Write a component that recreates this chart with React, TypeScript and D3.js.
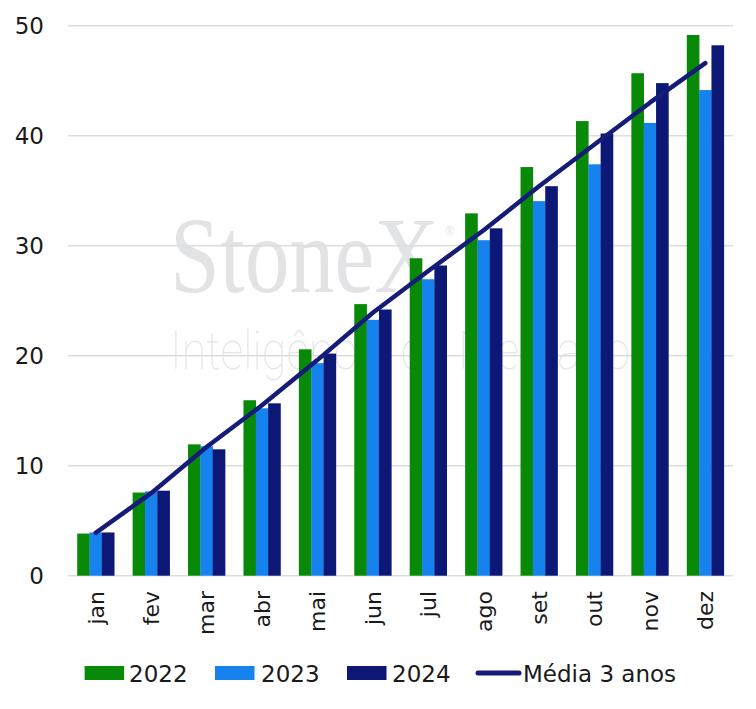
import React from "react";
import * as d3 from "d3";

const months = ["jan", "fev", "mar", "abr", "mai", "jun", "jul", "ago", "set", "out", "nov", "dez"];
const series = ["2022", "2023", "2024"];
const v2022 = [3.83, 7.56, 11.94, 15.95, 20.58, 24.69, 28.86, 32.94, 37.15, 41.33, 45.68, 49.16];
const v2023 = [3.93, 7.66, 11.77, 15.22, 19.32, 23.26, 26.95, 30.5, 34.05, 37.4, 41.16, 44.15];
const v2024 = [3.93, 7.73, 11.49, 15.67, 20.19, 24.2, 28.2, 31.58, 35.41, 40.2, 44.78, 48.22];
const media = [3.9, 7.5, 11.7, 15.5, 19.6, 23.9, 27.7, 31.4, 35.4, 39.2, 43.0, 46.6];
const yTicks = [0, 10, 20, 30, 40, 50];
const lineLabel = "Média 3 anos";

const colors = ["#088A08", "#1582EE", "#0D1776"];
const lineColor = "#151C78";
const FONT = "DejaVu Sans";

export default function App() {
  const W = 756, H = 709;
  const left = 68, right = 733, top = 25.7, bottom = 575.7;
  const values = [v2022, v2023, v2024];

  const x = d3.scaleBand<string>().domain(months).range([left, right]).padding(0);
  const bw = x.bandwidth();
  const groupW = bw * 0.668;
  const x1 = d3.scaleBand<string>().domain(series).range([0, groupW]).padding(0);
  const y = d3.scaleLinear().domain([0, 50]).range([bottom, top]);

  const line = d3
    .line<number>()
    .x((_, i) => (x(months[i]) as number) + bw / 2)
    .y((d) => y(d));

  const legendItems = [
    { label: "2022", rx: 84.6, tx: 129 },
    { label: "2023", rx: 215, tx: 261 },
    { label: "2024", rx: 347, tx: 392 },
  ];

  return (
    <svg
      width={W}
      height={H}
      style={{ position: "absolute", left: 0, top: 0, background: "#fff" }}
      fontFamily={FONT}
    >
      <rect x={0} y={0} width={W} height={H} fill="#fff" />
      {/* watermark */}
      <text
        transform="translate(170,292) scale(0.83,1)"
        fontFamily="Liberation Serif"
        fontSize={108}
        fill="#E2E3E5"
      >
        StoneX
        <tspan fontSize={14} dx={8} dy={-56}>®</tspan>
      </text>
      <text
        x={170}
        y={369}
        fontFamily="Roboto"
        fontWeight={100}
        fontSize={54}
        fill="#E6E6E6"
        textLength={460}
        lengthAdjust="spacingAndGlyphs"
      >
        Inteligência de Mercado
      </text>

      {/* gridlines */}
      {yTicks.map((t) => (
        <line key={t} x1={left} x2={right} y1={y(t)} y2={y(t)} stroke="#DDDDDD" strokeWidth={1.5} />
      ))}
      {/* y tick labels */}
      {yTicks.map((t) => (
        <text key={"l" + t} x={44} y={y(t)} dy="0.36em" textAnchor="end" fontSize={23} fill="#1a1a1a">
          {t}
        </text>
      ))}

      {/* bars */}
      {months.map((m, i) => (
        <g key={m} transform={`translate(${(x(m) as number) + (bw - groupW) / 2},0)`}>
          {series.map((s, j) => (
            <rect
              key={s}
              x={x1(s)}
              y={y(values[j][i])}
              width={x1.bandwidth() + 0.3}
              height={y(0) - y(values[j][i])}
              fill={colors[j]}
            />
          ))}
        </g>
      ))}

      {/* average line */}
      <path d={line(media) || ""} fill="none" stroke={lineColor} strokeWidth={4.5} strokeLinecap="round" strokeLinejoin="round" />

      {/* x labels */}
      {months.map((m) => {
        const cx = (x(m) as number) + bw / 2;
        return (
          <text
            key={"x" + m}
            transform={`translate(${cx},591) rotate(-90)`}
            textAnchor="end"
            dy="0.36em"
            fontSize={22}
            fill="#1a1a1a"
          >
            {m}
          </text>
        );
      })}

      {/* legend */}
      {legendItems.map((it, j) => (
        <g key={it.label}>
          <rect x={it.rx} y={666} width={39.5} height={14} fill={colors[j]} />
          <text x={it.tx} y={681.5} fontSize={23} fill="#1a1a1a">
            {it.label}
          </text>
        </g>
      ))}
      <line x1={478} x2={519} y1={673} y2={673} stroke={lineColor} strokeWidth={5} strokeLinecap="round" />
      <text x={523} y={681.5} fontSize={23} fill="#1a1a1a">
        {lineLabel}
      </text>
    </svg>
  );
}
